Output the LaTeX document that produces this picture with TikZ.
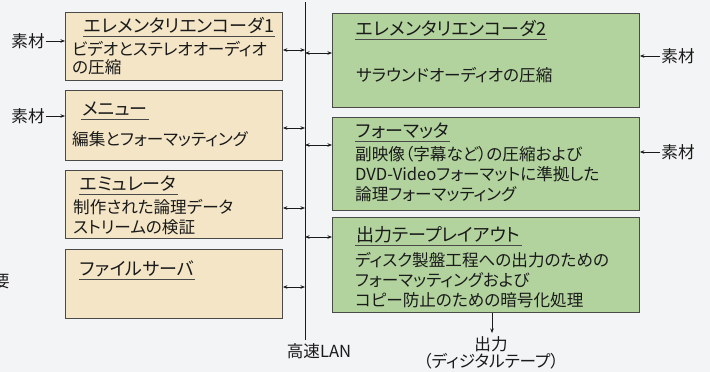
\documentclass[tikz,border=0pt]{standalone}
\usepackage{fontspec}
\setmainfont{Noto Sans CJK JP}[RawFeature={+palt}]
\usetikzlibrary{arrows.meta}
\definecolor{bg}{HTML}{F3F4F5}
\definecolor{beige}{HTML}{F3E5C6}
\definecolor{green1}{HTML}{B2D39E}
\definecolor{edge}{HTML}{4A4A48}
\definecolor{ink}{HTML}{1A1A1A}
\tikzset{
  lbox/.style={draw=edge, line width=0.9pt, fill=beige, inner sep=0pt, anchor=north west, minimum width=217pt},
  rbox/.style={draw=edge, line width=0.9pt, fill=green1, inner sep=0pt, anchor=north west, minimum width=307pt},
  ttl/.style={inner sep=0pt, anchor=base west, text=ink, font=\fontsize{18}{20}\selectfont},
  bodytxt/.style={inner sep=0pt, anchor=base west, align=left, text=ink, font=\fontsize{16.6}{20}\selectfont},
  lbl/.style={inner sep=0pt, text=ink, font=\fontsize{16.6}{17}\selectfont},
  uline/.style={draw=ink!80, line width=0.8pt},
  arr2/.style={draw=ink, line width=0.7pt, {Stealth[length=4.5pt,width=3.5pt]}-{Stealth[length=4.5pt,width=3.5pt]}},
  arr1/.style={draw=ink, line width=0.7pt, -{Stealth[length=4.5pt,width=3.5pt]}},
  lan/.style={draw=ink, line width=0.9pt}
}
\begin{document}
\begin{tikzpicture}[x=1pt,y=-1pt]
\useasboundingbox[fill=bg] (0,0) rectangle (710,372);

% left boxes
\node[lbox, minimum height=68pt] (b1) at (65,12) {};
\node[lbox, minimum height=70pt] (b2) at (65,90) {};
\node[lbox, minimum height=68pt] (b3) at (65,170) {};
\node[lbox, minimum height=69pt] (b4) at (65,249) {};
% right boxes
\node[rbox, minimum height=94pt] (r1) at (332,13) {};
\node[rbox, minimum height=93pt] (r2) at (332,117) {};
\node[rbox, minimum height=95pt] (r3) at (332,217) {};

% titles
\node[ttl] (t1) at (84,32) {エレメンタリエンコーダ1};
\node[ttl] (t2) at (82,115) {メニュー};
\node[ttl] (t3) at (80,190) {エミュレータ};
\node[ttl] (t4) at (80,275) {ファイルサーバ};
\node[ttl] (t5) at (356,35) {エレメンタリエンコーダ2};
\node[ttl] (t6) at (356,137) {フォーマッタ};
\node[ttl] (t7) at (356,241) {出力テープレイアウト};
\foreach \t in {t1,t2,t3,t4,t5,t6,t7}{
  \draw[uline] ([xshift=-1pt,yshift=-4pt]\t.base west) -- ([xshift=1pt,yshift=-4pt]\t.base east);
}

% bodies (anchor = baseline of last line)
\node[bodytxt] (d1) at (72,73) {ビデオとステレオオーディオ\\[-2pt]の圧縮};
\node[bodytxt] (d2) at (72,145) {編集とフォーマッティング};
\node[bodytxt] (d3) at (73,233) {制作された論理データ\\ストリームの検証};
\node[bodytxt] (d5) at (356,81) {サラウンドオーディオの圧縮};
\node[bodytxt] (d6) at (355,200) {副映像（字幕など）の圧縮および\\DVD-Videoフォーマットに準拠した\\論理フォーマッティング};
\node[bodytxt] (d7) at (355,306) {ディスク製盤工程への出力のための\\フォーマッティングおよび\\コピー防止のための暗号化処理};

% LAN line
\coordinate (lanT) at (305,2);
\coordinate (lanB) at (305,340);
\draw[lan] (lanT) -- (lanB);
\node[lbl] (lanL) at (319,351) {高速LAN};

% LAN taps
\coordinate (p1) at (305,50);
\coordinate (p2) at (305,128);
\coordinate (p3) at (305,208);
\coordinate (p4) at (305,287);
\coordinate (q1) at (305,53);
\coordinate (q2) at (305,145);
\coordinate (q3) at (305,237);
\draw[arr2] (b1.east |- p1) -- (p1);
\draw[arr2] (b2.east |- p2) -- (p2);
\draw[arr2] (b3.east |- p3) -- (p3);
\draw[arr2] (b4.east |- p4) -- (p4);
\draw[arr2] (q1) -- (r1.west |- q1);
\draw[arr2] (q2) -- (r2.west |- q2);
\draw[arr2] (q3) -- (r3.west |- q3);

% inputs
\node[lbl] (m1) at (28,41) {素材};
\node[lbl] (m2) at (28,116) {素材};
\node[lbl] (m3) at (678,56) {素材};
\node[lbl] (m4) at (678,152) {素材};
\draw[arr1] (m1.east) ++(1,0) coordinate (m1a) -- (b1.west |- m1a);
\draw[arr1] (m2.east) ++(1,0) coordinate (m2a) -- (b2.west |- m2a);
\draw[arr1] (m3.west) ++(-1,0) coordinate (m3a) -- (r1.east |- m3a);
\draw[arr1] (m4.west) ++(-1,0) coordinate (m4a) -- (r2.east |- m4a);

% output
\node[lbl, align=center] (out) at (491,353) {出力\\（ディジタルテープ）};
\coordinate (oc) at (492,333);
\draw[arr1] (r3.south -| oc) -- (oc);

% clipped character at left edge
\node[lbl, anchor=east] (cut) at (10,282) {要};
\end{tikzpicture}
\end{document}
